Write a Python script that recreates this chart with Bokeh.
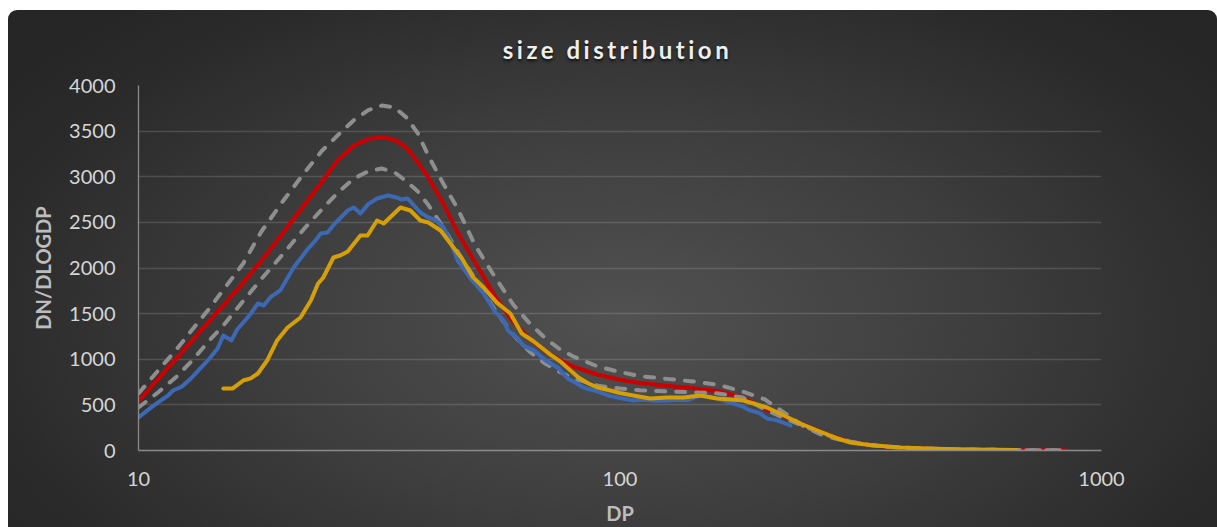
from bokeh.plotting import figure
from bokeh.models import Range1d, FixedTicker, Div, NumeralTickFormatter
from bokeh.layouts import column
from bokeh.embed import file_html
from bokeh.resources import INLINE

# ---------------- data ----------------
title_text = "size distribution"
x_label = "DP"
y_label = "DN/DLOGDP"
x_ticks = [10, 100, 1000]
x_tick_labels = ["10", "100", "1000"]
y_ticks = [0, 500, 1000, 1500, 2000, 2500, 3000, 3500, 4000]

dp_fit = [10, 11, 12, 13, 14, 15, 16.5, 18, 20, 22, 24, 26, 28, 30, 32, 34, 36, 38, 40, 43,
          46, 50, 55, 60, 65, 70, 75, 80, 90, 100, 110, 125, 140, 160, 180, 200, 220, 240,
          260, 280, 300, 330, 360, 400, 450, 500, 600, 700, 845]
mean_fit = [540, 787, 1013, 1220, 1412, 1591, 1840, 2080, 2390, 2680, 2940, 3190, 3340, 3415,
            3434, 3405, 3320, 3160, 2990, 2700, 2390, 2060, 1690, 1410, 1220, 1090, 990, 920,
            830, 775, 740, 710, 685, 650, 580, 455, 370, 285, 210, 145, 100, 60, 40, 28, 18,
            12, 7, 4, 2]
upper_fit = [625, 880, 1110, 1340, 1550, 1760, 2050, 2400, 2740, 3030, 3280, 3460, 3620, 3730,
             3780, 3760, 3650, 3480, 3230, 2920, 2650, 2250, 1900, 1600, 1390, 1230, 1110, 1030,
             920, 860, 815, 785, 760, 720, 645, 560, 410, 270, 180, 130, 95, 60, 40, 28, 18,
             12, 7, 4, 2]
lower_fit = [471, 640, 810, 1000, 1200, 1370, 1640, 1880, 2159, 2420, 2640, 2830, 2980, 3060,
             3090, 3050, 2950, 2840, 2690, 2440, 2180, 1880, 1540, 1270, 1080, 950, 860, 790,
             710, 680, 660, 648, 640, 625, 580, 450, 350, 270, 200, 140, 100, 60, 40, 28, 18,
             12, 7, 4, 2]

dp_blue = [10, 10.5, 11, 11.5, 11.8, 12.3, 12.8, 13.5, 14, 14.6, 15.0, 15.6, 16.0, 16.5, 17.0,
           17.7, 18.2, 18.8, 19.7, 21.0, 22.4, 23.3, 23.9, 24.7, 25.5, 27.2, 28.0, 28.9, 30.0,
           31.3, 33.0, 34.5, 35.2, 36.2, 38.5, 40.0, 41.5, 43.0, 44.5, 46.0, 49.0, 52.1, 55.0,
           57.3, 58.5, 61.0, 63.0, 66.1, 70.0, 74.2, 77.8, 81.0, 84.0, 88.0, 91.0, 95.0, 100,
           106.6, 112, 118, 125.6, 132, 138, 146.9, 152, 159, 166, 172, 180, 186.6, 195, 202,
           212, 226]
blue = [362, 450, 530, 600, 658, 700, 780, 910, 1000, 1118, 1260, 1206, 1320, 1403, 1480, 1611,
        1589, 1680, 1754, 2006, 2200, 2300, 2378, 2389, 2480, 2630, 2663, 2597, 2700, 2762, 2795,
        2770, 2750, 2762, 2608, 2554, 2521, 2444, 2280, 2082, 1880, 1721, 1520, 1425, 1315,
        1240, 1150, 1100, 990, 910, 790, 740, 690, 660, 636, 600, 575, 548, 560, 545, 548, 555,
        550, 603, 590, 570, 540, 515, 480, 438, 410, 351, 330, 274]

dp_gold = [15.0, 15.7, 16.5, 17.1, 17.7, 18.5, 19.4, 20.4, 21.7, 22.8, 23.6, 24.2, 25.4, 26.3,
           27.2, 28.9, 29.9, 31.3, 32.3, 35.0, 36.7, 38.5, 40.0, 42.4, 45.1, 47.0, 49.5, 52.1,
           55.5, 59.2, 62.5, 66.0, 71.7, 75.0, 78.0, 82.0, 86.0, 90.0, 95.5, 100, 106.6, 115.5,
           125.6, 135.6, 146.9, 159, 170, 180.5, 202, 219, 237, 257, 280, 301, 330, 382, 450,
           530, 666]
gold = [680, 680, 767, 790, 844, 986, 1206, 1348, 1458, 1644, 1830, 1896, 2115, 2140, 2180, 2356,
        2356, 2521, 2488, 2663, 2630, 2521, 2499, 2411, 2225, 2100, 1900, 1786, 1620, 1501, 1282,
        1200, 1050, 980, 900, 800, 734, 690, 658, 630, 603, 570, 581, 581, 603, 570, 560, 548,
        471, 384, 296, 219, 140, 88, 60, 33, 20, 12, 5]

# ---------------- chart ----------------
FONT = "Lato"

title = Div(
    text=title_text, width=1209, height=60, margin=0,
    styles={
        "font-family": FONT, "font-size": "24px", "font-weight": "bold",
        "color": "#eeeeee", "letter-spacing": "3.5px", "text-align": "center",
        "padding-top": "23px", "padding-left": "10px", "box-sizing": "border-box",
        "text-shadow": "0px 2px 3px rgba(0,0,0,0.75)",
    },
)

p = figure(
    width=1209, height=457, x_axis_type="log", margin=0,
    x_range=Range1d(10, 1000), y_range=Range1d(0, 4000),
    output_backend="svg", toolbar_location=None,
    min_border_left=130, min_border_right=116, min_border_top=15, min_border_bottom=77,
    background_fill_color=None, border_fill_color=None, outline_line_color=None,
)

p.xaxis.ticker = FixedTicker(ticks=x_ticks, minor_ticks=[])
p.xaxis.formatter = NumeralTickFormatter(format="0")
p.xaxis.major_label_overrides = {float(t): l for t, l in zip(x_ticks, x_tick_labels)}
p.yaxis.ticker = FixedTicker(ticks=y_ticks, minor_ticks=[])
p.ygrid.ticker = FixedTicker(ticks=y_ticks)
p.xgrid.grid_line_color = None
p.ygrid.grid_line_color = "#ffffff"
p.ygrid.grid_line_alpha = 0.14
p.ygrid.grid_line_width = 1.3

for ax in (p.xaxis, p.yaxis):
    ax.axis_line_color = "#8a8a8a"
    ax.axis_line_width = 1.3
    ax.major_tick_line_color = None
    ax.minor_tick_line_color = None
    ax.major_label_text_font = FONT
    ax.major_label_text_font_size = "20px"
    ax.major_label_text_color = "#d6d6d6"
    ax.axis_label_text_font = FONT
    ax.axis_label_text_font_size = "20px"
    ax.axis_label_text_font_style = "bold"
    ax.axis_label_text_color = "#bdbdbd"

p.xaxis.axis_label = x_label
p.yaxis.axis_label = y_label
p.yaxis.major_label_standoff = 17
p.xaxis.major_label_standoff = 15
p.yaxis.axis_label_standoff = 11
p.xaxis.axis_label_standoff = 12

dash = dict(line_color="#8e8e8e", line_width=4, line_dash="9 11", line_cap="round",
            line_join="round")
p.line(dp_fit, mean_fit, line_color="#cc0000", line_width=4, line_join="round",
       line_cap="round")
p.line(dp_fit, upper_fit, **dash)
p.line(dp_fit, lower_fit, **dash)
p.line(dp_blue, blue, line_color="#3d68b3", line_width=4, line_join="round", line_cap="round")
p.line(dp_gold, gold, line_color="#d4a005", line_width=4, line_join="round", line_cap="round")

layout = column(
    title, p, width=1209, height=517, margin=(10, 0, 0, 8), spacing=0,
    styles={
        "background": "radial-gradient(ellipse 62% 80% at 51% 60%, #515151 0%, #3f3f3f 45%, #2b2b2b 85%, #262626 100%)",
        "border-radius": "9px 9px 0 0",
    },
)

open("out.html", "w").write(file_html(layout, INLINE))
